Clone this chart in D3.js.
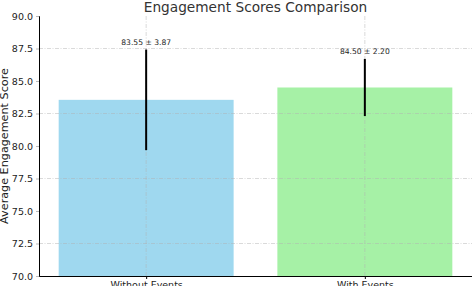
<!DOCTYPE html>
<html>
<head>
<meta charset="utf-8">
<script src="https://cdn.jsdelivr.net/npm/d3@7"></script>
<style>
  body { margin: 0; background: #fff; }
  svg { display: block; font-family: "DejaVu Sans", sans-serif; }
</style>
</head>
<body>
<div id="chart"></div>
<script>
const categories = ["Without Events", "With Events"];
const means = [83.55, 84.50];
const stds = [3.87, 2.20];
const barColors = ["#87ceeb", "#90ee90"];
const yTicks = [70, 72.5, 75, 77.5, 80, 82.5, 85, 87.5, 90];
const gridTicks = [72.5, 77.5, 82.5, 87.5];

const width = 472, height = 286;
const margin = {top: 16, left: 39, right: 0, bottom: 10};

const svg = d3.select("#chart").append("svg")
    .attr("width", width)
    .attr("height", height);

const xScale = d3.scaleLinear()
    .domain([-0.49, 1.49])
    .range([margin.left, width - margin.right]);

const yScale = d3.scaleLinear()
    .domain([70, 90])
    .range([height - margin.bottom, margin.top]);

const barW = xScale(0.8) - xScale(0);

/* bars */
svg.append("g").selectAll("rect")
    .data(means)
    .enter()
    .append("rect")
        .attr("x", (d, i) => xScale(i) - barW / 2)
        .attr("y", d => yScale(d))
        .attr("width", barW)
        .attr("height", d => yScale(70) - yScale(d))
        .attr("fill", (d, i) => barColors[i])
        .attr("fill-opacity", 0.8);

/* grid on top of bars */
const grid = svg.append("g")
    .attr("stroke", "#b0b0b0")
    .attr("stroke-width", 0.8)
    .attr("stroke-opacity", 0.6)
    .attr("stroke-dasharray", "4,1.5,1,1.5");

grid.selectAll(".hg")
    .data(gridTicks)
    .enter()
    .append("line")
        .attr("x1", xScale.range()[0])
        .attr("x2", xScale.range()[1])
        .attr("y1", d => yScale(d))
        .attr("y2", d => yScale(d));

grid.selectAll(".vg")
    .data(categories)
    .enter()
    .append("line")
        .attr("x1", (d, i) => xScale(i))
        .attr("x2", (d, i) => xScale(i))
        .attr("y1", yScale(70))
        .attr("y2", yScale(90));

/* error bars */
svg.append("g").selectAll("line")
    .data(means)
    .enter()
    .append("line")
        .attr("x1", (d, i) => xScale(i))
        .attr("x2", (d, i) => xScale(i))
        .attr("y1", (d, i) => yScale(d - stds[i]))
        .attr("y2", (d, i) => yScale(d + stds[i]))
        .attr("stroke", "#000")
        .attr("stroke-width", 2);

/* value labels */
svg.append("g").selectAll("text")
    .data(means)
    .enter()
    .append("text")
        .attr("x", (d, i) => xScale(i))
        .attr("y", (d, i) => yScale(d + stds[i] + 0.35))
        .attr("text-anchor", "middle")
        .attr("font-size", 7.6)
        .attr("fill", "#222")
        .text((d, i) => `${d.toFixed(2)} ± ${stds[i].toFixed(2)}`);

/* axes */
const yAxis = svg.append("g")
    .attr("transform", `translate(${margin.left},0)`)
    .call(d3.axisLeft(yScale).tickValues(yTicks).tickFormat(d3.format(".1f")).tickSize(3).tickPadding(3));
yAxis.select(".domain").attr("stroke", "#000").attr("stroke-width", 1);
yAxis.selectAll(".tick line").attr("stroke", "#bbb");
yAxis.selectAll(".tick text")
    .attr("font-family", "DejaVu Sans")
    .attr("font-size", 9.5)
    .attr("fill", "#222");

const xAxis = svg.append("g")
    .attr("transform", `translate(0,${yScale(70)})`)
    .call(d3.axisBottom(xScale).tickValues([0, 1]).tickFormat((d, i) => categories[i]).tickSize(3).tickPadding(2).tickSizeOuter(0));
xAxis.select(".domain").attr("stroke", "#000").attr("stroke-width", 1);
xAxis.selectAll(".tick line").attr("stroke", "#000");
xAxis.selectAll(".tick text")
    .attr("font-family", "DejaVu Sans")
    .attr("font-size", 9.5)
    .attr("fill", "#222");

/* titles */
svg.append("text")
    .attr("x", (margin.left + width - margin.right) / 2)
    .attr("y", 12)
    .attr("text-anchor", "middle")
    .attr("font-size", 13.7)
    .attr("fill", "#333")
    .text("Engagement Scores Comparison");

svg.append("text")
    .attr("transform", `translate(8,${(margin.top + yScale(70)) / 2}) rotate(-90)`)
    .attr("text-anchor", "middle")
    .attr("font-size", 11.2)
    .attr("fill", "#222")
    .text("Average Engagement Score");
</script>
</body>
</html>
